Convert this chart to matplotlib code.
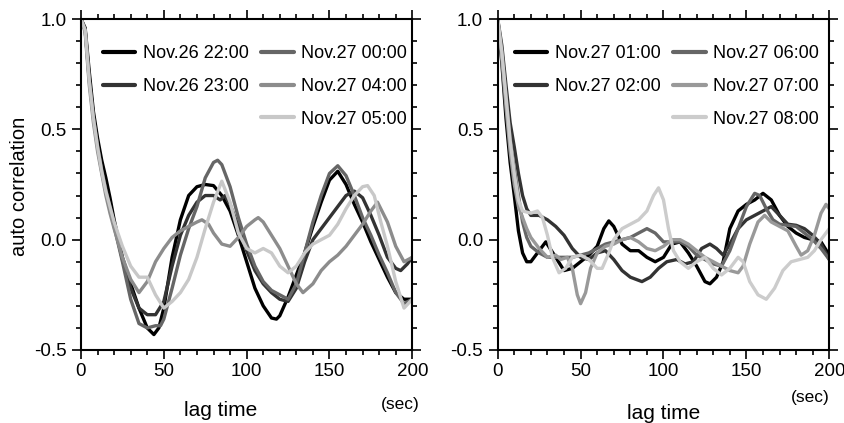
import matplotlib
matplotlib.use("Agg")
import matplotlib.pyplot as plt
from matplotlib.ticker import MultipleLocator, FixedLocator, FixedFormatter

plt.rcParams['font.family'] = ['Liberation Sans', 'DejaVu Sans']
plt.rcParams['axes.unicode_minus'] = False

# ---- left panel: Nov.26 22:00 ... Nov.27 05:00 ----
lag_2200 = [0, 2.5, 5, 7.5, 10, 12.5, 15, 17.5, 20, 25, 30, 35, 40, 44, 47, 50, 55, 60, 65, 70, 75, 80,
            85, 90, 95, 100, 105, 110, 115, 118, 120, 125, 130, 135, 140, 145, 150, 155, 160, 165, 170,
            175, 180, 185, 190, 195, 200]
acf_2200 = [1.0, 0.96, 0.76, 0.58, 0.46, 0.36, 0.28, 0.19, 0.09, -0.08, -0.2, -0.31, -0.4, -0.43, -0.4,
            -0.31, -0.08, 0.09, 0.2, 0.24, 0.25, 0.245, 0.2, 0.13, 0.02, -0.1, -0.22, -0.3, -0.355, -0.36,
            -0.345, -0.26, -0.16, -0.06, 0.06, 0.17, 0.27, 0.31, 0.25, 0.16, 0.08, -0.01, -0.09, -0.17,
            -0.24, -0.27, -0.27]

lag_2300 = [0, 2.5, 5, 7.5, 10, 12.5, 15, 17.5, 20, 25, 30, 35, 40, 45, 50, 55, 60, 65, 70, 75, 80, 84,
            87, 90, 95, 100, 105, 110, 115, 120, 125, 130, 135, 140, 145, 150, 155, 160, 165, 170, 175,
            180, 185, 190, 193, 197, 200]
acf_2300 = [1.0, 0.95, 0.73, 0.56, 0.43, 0.32, 0.23, 0.15, 0.07, -0.09, -0.22, -0.31, -0.34, -0.34,
            -0.28, -0.12, 0.02, 0.11, 0.17, 0.2, 0.2, 0.18, 0.2, 0.16, 0.06, -0.05, -0.14, -0.2, -0.24,
            -0.27, -0.28, -0.22, -0.1, 0.0, 0.05, 0.1, 0.15, 0.2, 0.22, 0.19, 0.11, 0.02, -0.08, -0.13,
            -0.14, -0.11, -0.08]

lag_0000 = [0, 2.5, 5, 7.5, 10, 12.5, 15, 17.5, 20, 25, 30, 35, 40, 45, 48, 50, 55, 60, 65, 70, 75, 80,
            82.5, 85, 90, 95, 100, 105, 110, 115, 120, 125, 130, 135, 140, 145, 150, 155, 160, 165, 170,
            175, 180, 185, 190, 195, 200]
acf_0000 = [1.0, 0.95, 0.72, 0.55, 0.42, 0.31, 0.22, 0.14, 0.06, -0.1, -0.27, -0.38, -0.4, -0.39,
            -0.39, -0.36, -0.22, -0.07, 0.05, 0.15, 0.28, 0.35, 0.36, 0.34, 0.24, 0.1, -0.02, -0.12,
            -0.19, -0.23, -0.25, -0.27, -0.2, -0.06, 0.08, 0.2, 0.3, 0.335, 0.29, 0.2, 0.1, 0.02, -0.07,
            -0.15, -0.24, -0.29, -0.27]

lag_0400 = [0, 2.5, 5, 7.5, 10, 12.5, 15, 17.5, 20, 25, 30, 35, 40, 45, 50, 55, 60, 65, 70, 73, 77, 80,
            85, 90, 95, 100, 105, 107, 110, 115, 120, 125, 130, 134, 140, 145, 150, 155, 160, 165, 170,
            175, 179, 185, 190, 195, 200]
acf_0400 = [1.0, 0.94, 0.7, 0.53, 0.4, 0.3, 0.2, 0.12, 0.05, -0.08, -0.18, -0.24, -0.19, -0.1, -0.04,
            0.01, 0.04, 0.06, 0.08, 0.09, 0.07, 0.03, -0.02, -0.03, 0.01, 0.06, 0.09, 0.1, 0.08, 0.02,
            -0.04, -0.12, -0.2, -0.24, -0.2, -0.14, -0.1, -0.07, -0.03, 0.02, 0.07, 0.13, 0.17, 0.08,
            -0.03, -0.1, -0.08]

lag_0500 = [0, 2.5, 5, 7.5, 10, 12.5, 15, 17.5, 20, 25, 30, 35, 40, 45, 50, 55, 60, 65, 70, 75, 80, 85,
            90, 95, 100, 105, 110, 115, 120, 125, 130, 135, 140, 145, 150, 155, 160, 165, 170, 173,
            177, 181, 185, 190, 195, 200]
acf_0500 = [1.0, 0.95, 0.72, 0.55, 0.42, 0.31, 0.22, 0.15, 0.08, -0.03, -0.12, -0.17, -0.17, -0.25,
            -0.31, -0.28, -0.24, -0.18, -0.08, 0.05, 0.17, 0.265, 0.17, 0.03, -0.04, -0.06, -0.04,
            -0.06, -0.12, -0.15, -0.12, -0.06, -0.02, 0.0, 0.02, 0.07, 0.14, 0.2, 0.24, 0.245, 0.2, 0.08,
            -0.03, -0.19, -0.31, -0.27]

# ---- right panel: Nov.27 01:00 ... 08:00 ----
lag_0100 = [0, 2.5, 5, 7.5, 10, 12.5, 15, 17.5, 20, 25, 29, 35, 40, 45, 50, 55, 60, 64, 67, 70, 75, 80,
            85, 90, 95, 100, 105, 110, 115, 120, 125, 128, 132, 136, 140, 145, 150, 155, 160, 165, 170,
            175, 180, 185, 190, 195, 200]
acf_0100 = [1.0, 0.8, 0.55, 0.35, 0.2, 0.04, -0.06, -0.1, -0.1, -0.05, -0.01, -0.08, -0.14, -0.13,
            -0.1, -0.07, -0.03, 0.05, 0.085, 0.06, -0.02, -0.05, -0.05, -0.08, -0.1, -0.08, -0.02, -0.01,
            -0.06, -0.12, -0.19, -0.2, -0.17, -0.1, 0.05, 0.13, 0.16, 0.18, 0.21, 0.18, 0.11, 0.06, 0.03,
            0.01, 0.0, -0.01, -0.07]

lag_0200 = [0, 2.5, 5, 7.5, 10, 12.5, 15, 17.5, 20, 25, 30, 35, 40, 45, 50, 55, 60, 65, 70, 75, 80, 87,
            92, 97, 102, 108, 113, 118, 123, 128, 132, 136, 140, 145, 150, 155, 160, 165, 170, 175, 180,
            185, 190, 195, 200]
acf_0200 = [1.0, 0.88, 0.7, 0.53, 0.42, 0.3, 0.2, 0.14, 0.11, 0.11, 0.09, 0.06, 0.02, -0.04, -0.08,
            -0.09, -0.06, -0.05, -0.09, -0.14, -0.17, -0.19, -0.17, -0.13, -0.1, -0.09, -0.11, -0.1,
            -0.04, -0.02, -0.04, -0.07, -0.02, 0.05, 0.09, 0.11, 0.13, 0.15, 0.11, 0.07, 0.065, 0.05,
            0.02, -0.02, -0.09]

lag_0600 = [0, 2.5, 5, 7.5, 10, 12.5, 15, 17.5, 20, 25, 30, 35, 40, 45, 50, 55, 60, 65, 70, 75, 80, 85,
            90, 95, 100, 105, 110, 115, 120, 125, 130, 135, 140, 145, 150, 155, 158, 162, 166, 170, 175,
            180, 185, 190, 195, 200]
acf_0600 = [1.0, 0.85, 0.65, 0.46, 0.32, 0.2, 0.08, 0.01, -0.03, -0.06, -0.08, -0.08, -0.08, -0.08,
            -0.07, -0.06, -0.04, -0.02, -0.01, 0.0, 0.01, 0.03, 0.05, 0.03, -0.01, -0.01, -0.01, -0.03,
            -0.07, -0.09, -0.11, -0.12, -0.05, 0.05, 0.15, 0.21, 0.2, 0.14, 0.09, 0.07, 0.065, 0.06,
            0.03, 0.0, -0.04, -0.09]

lag_0700 = [0, 2.5, 5, 7.5, 10, 12.5, 15, 17.5, 20, 25, 30, 35, 38, 42, 45, 48, 50, 53, 56, 60, 65, 70,
            75, 80, 85, 90, 95, 100, 105, 110, 115, 120, 125, 130, 135, 140, 145, 148, 152, 157, 161,
            165, 170, 175, 180, 183, 187, 191, 195, 198, 200]
acf_0700 = [1.0, 0.82, 0.6, 0.4, 0.25, 0.15, 0.1, 0.05, 0.01, -0.04, -0.08, -0.07, -0.09, -0.08, -0.13,
            -0.25, -0.29, -0.24, -0.13, -0.06, -0.03, -0.02, 0.0, 0.01, -0.01, -0.04, -0.05, -0.03, 0.0,
            0.0, -0.02, -0.05, -0.08, -0.1, -0.12, -0.14, -0.15, -0.12, -0.02, 0.08, 0.11, 0.08, 0.06,
            0.04, -0.03, -0.07, -0.05, 0.02, 0.12, 0.16, 0.14]

lag_0800 = [0, 2.5, 5, 7.5, 10, 12.5, 15, 20, 24, 27, 30, 33, 37, 41, 45, 50, 55, 60, 63, 67, 70, 75,
            80, 85, 90, 94, 97, 100, 103, 106, 110, 115, 120, 125, 130, 135, 140, 145, 148, 152, 157,
            162, 167, 172, 177, 182, 187, 191, 195, 200]
acf_0800 = [1.0, 0.85, 0.65, 0.45, 0.3, 0.18, 0.13, 0.12, 0.13, 0.1, 0.02, -0.08, -0.15, -0.13, -0.08,
            -0.07, -0.09, -0.13, -0.13, -0.06, 0.0, 0.05, 0.07, 0.09, 0.13, 0.2, 0.235, 0.18, 0.05,
            -0.05, -0.1, -0.13, -0.1, -0.08, -0.13, -0.16, -0.13, -0.08, -0.1, -0.19, -0.25, -0.27,
            -0.22, -0.14, -0.1, -0.09, -0.08, -0.05, 0.0, 0.05]

left_series = [
    ('Nov.26 22:00', lag_2200, acf_2200, '#000000'),
    ('Nov.26 23:00', lag_2300, acf_2300, '#333333'),
    ('Nov.27 00:00', lag_0000, acf_0000, '#666666'),
    ('Nov.27 04:00', lag_0400, acf_0400, '#8c8c8c'),
    ('Nov.27 05:00', lag_0500, acf_0500, '#c8c8c8'),
]
right_series = [
    ('Nov.27 01:00', lag_0100, acf_0100, '#000000'),
    ('Nov.27 02:00', lag_0200, acf_0200, '#333333'),
    ('Nov.27 06:00', lag_0600, acf_0600, '#666666'),
    ('Nov.27 07:00', lag_0700, acf_0700, '#999999'),
    ('Nov.27 08:00', lag_0800, acf_0800, '#cccccc'),
]

W, H = 845, 423
fig = plt.figure(figsize=(W / 100, H / 100), dpi=100)


def px_axes(x0, x1, y0, y1):
    return fig.add_axes([x0 / W, 1 - y1 / H, (x1 - x0) / W, (y1 - y0) / H])


def draw_panel(ax, series, leg_x):
    handles = []
    for label, lag, acf, color in series:
        h, = ax.plot(lag, acf, color=color, lw=2.4, solid_joinstyle='round',
                     solid_capstyle='round', label=label)
        handles.append(h)
    # blank slot so the first column holds two entries and the second three
    blank, = ax.plot([], [], color='none', label=' ')
    handles = handles[:2] + [blank] + handles[2:]
    leg = ax.legend(handles=handles, loc='upper left', bbox_to_anchor=(leg_x, 0.92),
                    ncol=2, frameon=False, fontsize=13, handlelength=1.8,
                    handletextpad=0.4, columnspacing=0.7, labelspacing=0.86,
                    borderpad=0, borderaxespad=0)
    for line in leg.get_lines():
        line.set_linewidth(3)

    ax.set_xlim(0, 200)
    ax.set_ylim(-0.5, 1.0)
    ax.xaxis.set_major_locator(MultipleLocator(50))
    ax.xaxis.set_minor_locator(MultipleLocator(10))
    ax.yaxis.set_major_locator(FixedLocator([-0.5, 0.0, 0.5, 1.0]))
    ax.yaxis.set_major_formatter(FixedFormatter(['-0.5', '0.0', '0.5', '1.0']))
    ax.yaxis.set_minor_locator(MultipleLocator(0.1))
    ax.tick_params(which='both', direction='out', top=True, right=True, width=1.2,
                   labelsize=13.5, colors='black')
    ax.tick_params(which='major', length=6.5)
    ax.tick_params(which='minor', length=3.5)
    ax.tick_params(axis='y', pad=4)
    ax.tick_params(axis='x', pad=3)
    for s in ax.spines.values():
        s.set_linewidth(1.5)


ax1 = px_axes(81, 412.3, 19, 350)
ax2 = px_axes(497.7, 829.3, 19, 350)
draw_panel(ax1, left_series, 0.066)
draw_panel(ax2, right_series, 0.052)

fig.text(20 / W, 1 - 186 / H, 'auto correlation', rotation=90, ha='center', va='center',
         fontsize=14.5)
fig.text(221 / W, 1 - 410 / H, 'lag time', ha='center', va='center', fontsize=15)
fig.text(664 / W, 1 - 413 / H, 'lag time', ha='center', va='center', fontsize=15)
fig.text(400 / W, 1 - 404 / H, '(sec)', ha='center', va='center', fontsize=12.5)
fig.text(810 / W, 1 - 397 / H, '(sec)', ha='center', va='center', fontsize=12.5)

fig.savefig('out.png', dpi=100)
